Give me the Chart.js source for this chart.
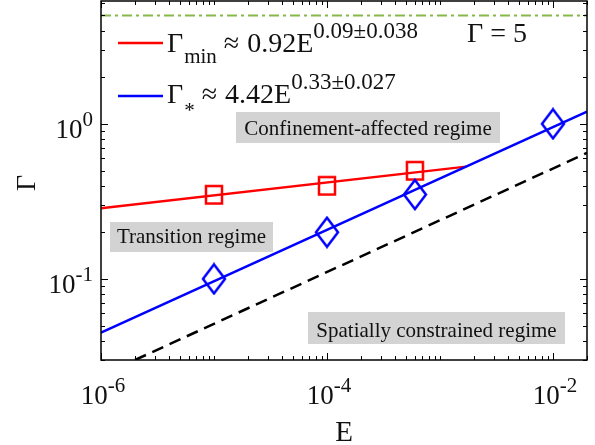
<!DOCTYPE html>
<html>
<head>
<meta charset="utf-8">
<script src="https://cdn.jsdelivr.net/npm/chart.js@4.4.0/dist/chart.umd.min.js"></script>
<style>
  html, body { margin: 0; padding: 0; background: #fff; }
  canvas { display: block; }
</style>
</head>
<body>
<canvas id="grafico" width="595" height="445"></canvas>
<script>
// puntos medidos
const eMedidos = [1e-5, 1e-4, 6e-4];
const gammaMin = [0.35, 0.40, 0.50];
const eEstrella = [1e-5, 1e-4, 6e-4, 1e-2];
const gammaEstrella = [0.10, 0.20, 0.35, 1.0];

// rectas de ajuste (solo extremos)
const ajusteMinE = [1e-6, 1.7e-3];
const ajusteMinG = [0.286, 0.53];
const ajusteEstE = [1e-6, 0.02];
const ajusteEstG = [0.045, 1.2];
const limiteE = [2e-6, 0.02];
const limiteG = [0.03, 0.65];
const techoE = [1e-6, 0.02];
const techoG = [5, 5];

// ejes
const ticksX = [1e-6, 1e-4, 1e-2];
const expX = ['-6', '-4', '-2'];
const ticksY = [0.1, 1];
const expY = ['-1', '0'];

// textos
const leyendaMin = ['Γ', 'min', '≈', '0.92E', '0.09±0.038'];
const leyendaEst = ['Γ', '*', '≈', '4.42E', '0.33±0.027'];
const regimenes = ['Confinement-affected regime', 'Transition regime', 'Spatially constrained regime'];

const ROJO = '#ff0000';
const AZUL = '#0000ff';
const VERDE = '#86b84a';
const FUENTE = '"Liberation Serif", "Times New Roman", serif';

const pts = (xs, ys) => xs.map((x, i) => ({ x, y: ys[i] }));

function marcador(w, h, color, forma) {
  const c = document.createElement('canvas');
  c.width = w + 4;
  c.height = h + 4;
  const g = c.getContext('2d');
  g.strokeStyle = color;
  g.lineWidth = 2.5;
  if (forma === 'cuadro') {
    g.strokeRect(2, 2, w, h);
  } else {
    g.beginPath();
    g.moveTo(2 + w / 2, 2);
    g.lineTo(2 + w, 2 + h / 2);
    g.lineTo(2 + w / 2, 2 + h);
    g.lineTo(2, 2 + h / 2);
    g.closePath();
    g.stroke();
  }
  return c;
}

function escribir(ctx, txt, x, y, size, align) {
  ctx.font = `${size}px ${FUENTE}`;
  ctx.textAlign = align || 'left';
  ctx.fillText(txt, x, y);
  return ctx.measureText(txt).width;
}

function potencia(ctx, exp, x, y, align) {
  // "10" con exponente, x es el centro (o el borde derecho)
  ctx.font = `27px ${FUENTE}`;
  const wBase = ctx.measureText('10').width;
  ctx.font = `21px ${FUENTE}`;
  const wExp = ctx.measureText(exp).width;
  const x0 = align === 'right' ? x - wBase - wExp : x - (wBase + wExp) / 2;
  escribir(ctx, '10', x0, y, 27);
  escribir(ctx, exp, x0 + wBase, y - 12, 21);
}

const marco = {
  id: 'marco',
  afterDatasetsDraw(chart) {
    const ctx = chart.ctx;
    const a = chart.chartArea;
    const sx = chart.scales.x, sy = chart.scales.y;
    ctx.save();
    ctx.fillStyle = '#111';
    ctx.textBaseline = 'alphabetic';

    // recuadros de regímenes
    const cajas = [[236, 112, 264, 31, 135], [110, 222, 163, 30, 243], [308, 312, 257, 32, 337]];
    cajas.forEach((c, i) => {
      ctx.fillStyle = '#d3d3d3';
      ctx.fillRect(c[0], c[1], c[2], c[3]);
      ctx.fillStyle = '#111';
      escribir(ctx, regimenes[i], c[0] + c[2] / 2, c[4], 21, 'center');
    });

    // leyenda
    const filas = [[leyendaMin, ROJO, 43, 52, 63], [leyendaEst, AZUL, 96, 103, 117]];
    filas.forEach(([t, color, yl, yb, ysub]) => {
      ctx.strokeStyle = color;
      ctx.lineWidth = 2.5;
      ctx.beginPath();
      ctx.moveTo(118, yl);
      ctx.lineTo(163, yl);
      ctx.stroke();
      let x = 167;
      x += escribir(ctx, t[0], x, yb, 28) + 1;
      x += escribir(ctx, t[1], x, ysub, 21) + 7;
      x += escribir(ctx, t[2], x, yb, 28) + 8;
      x += escribir(ctx, t[3], x, yb, 28);
      escribir(ctx, t[4], x, yb - 14, 23);
    });
    escribir(ctx, 'Γ = 5', 467, 42, 28);

    // marco y marcas hacia dentro en los cuatro lados
    ctx.strokeStyle = '#000';
    ctx.lineWidth = 1.5;
    ctx.strokeRect(a.left, a.top, a.right - a.left, a.bottom - a.top);
    ctx.lineWidth = 1;
    ctx.beginPath();
    for (let e = -7; e <= 1; e++) {
      for (let k = 1; k <= 9; k++) {
        const v = k * Math.pow(10, e);
        if (v >= sx.min && v <= sx.max) {
          const largo = ticksX.some(t => Math.abs(t / v - 1) < 1e-6) ? 7 : 4;
          const px = Math.round(sx.getPixelForValue(v)) + 0.5;
          ctx.moveTo(px, a.bottom); ctx.lineTo(px, a.bottom - largo);
          ctx.moveTo(px, a.top); ctx.lineTo(px, a.top + largo);
        }
        if (v >= sy.min && v <= sy.max) {
          const largo = ticksY.some(t => Math.abs(t / v - 1) < 1e-6) ? 7 : 4;
          const py = Math.round(sy.getPixelForValue(v)) + 0.5;
          ctx.moveTo(a.left, py); ctx.lineTo(a.left + largo, py);
          ctx.moveTo(a.right, py); ctx.lineTo(a.right - largo, py);
        }
      }
    }
    ctx.stroke();

    // etiquetas de los ejes
    ctx.fillStyle = '#111';
    ticksX.forEach((v, i) => potencia(ctx, expX[i], sx.getPixelForValue(v) + 2, 404));
    ticksY.forEach((v, i) => potencia(ctx, expY[i], 93, sy.getPixelForValue(v) + 14, 'right'));
    escribir(ctx, 'E', (a.left + a.right) / 2, 441, 29, 'center');
    ctx.save();
    ctx.translate(35, 183);
    ctx.rotate(-Math.PI / 2);
    escribir(ctx, 'Γ', 0, 0, 28, 'center');
    ctx.restore();
    ctx.restore();
  }
};

const linea = (datos, color, ancho, dash, orden) => ({
  data: datos,
  showLine: true,
  borderColor: color,
  borderWidth: ancho,
  borderDash: dash || [],
  pointRadius: 0,
  fill: false,
  order: orden
});

new Chart(document.getElementById('grafico'), {
  type: 'scatter',
  data: {
    datasets: [
      {
        data: pts(eMedidos, gammaMin),
        pointStyle: marcador(16, 17.5, ROJO, 'cuadro'),
        pointRadius: 10,
        order: 1
      },
      {
        data: pts(eEstrella, gammaEstrella),
        pointStyle: marcador(22, 29, AZUL, 'rombo'),
        pointRadius: 10,
        order: 0
      },
      linea(pts(ajusteMinE, ajusteMinG), ROJO, 2.5, null, 4),
      linea(pts(ajusteEstE, ajusteEstG), AZUL, 2.5, null, 3),
      linea(pts(limiteE, limiteG), '#000', 2.5, [12, 7], 5),
      linea(pts(techoE, techoG), VERDE, 2, [10, 4, 3, 4], 6)
    ]
  },
  options: {
    responsive: false,
    animation: false,
    layout: { autoPadding: false, padding: { top: 1, right: 8, left: 0, bottom: 0 } },
    plugins: { legend: { display: false }, tooltip: { enabled: false } },
    scales: {
      x: {
        type: 'logarithmic',
        min: 1e-6,
        max: 0.02,
        ticks: { display: false },
        grid: { display: false },
        border: { display: false },
        afterFit: s => { s.height = 85; }
      },
      y: {
        type: 'logarithmic',
        min: 0.03,
        max: 6.2,
        ticks: { display: false },
        grid: { display: false },
        border: { display: false },
        afterFit: s => { s.width = 101; }
      }
    }
  },
  plugins: [marco]
});
</script>
</body>
</html>
